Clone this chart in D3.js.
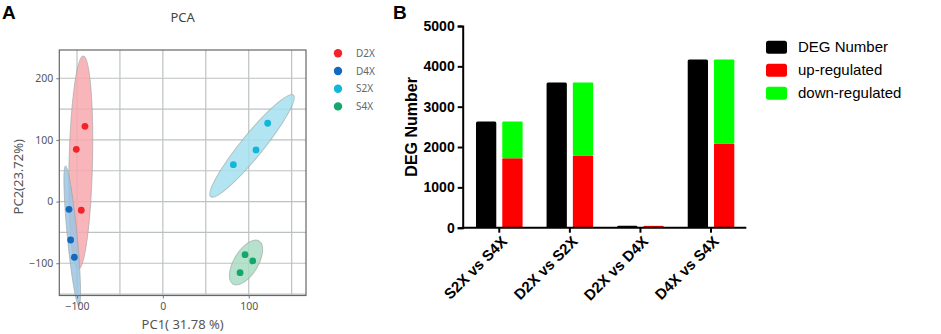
<!DOCTYPE html>
<html>
<head>
<meta charset="utf-8">
<script src="https://cdn.jsdelivr.net/npm/d3@7"></script>
<style>
  body { margin: 0; background: #fff; }
  svg { display: block; }
</style>
</head>
<body>
<svg id="chart" width="941" height="334"></svg>
<script>
// ---- Panel A data (PCA) ----
const groups = ["D2X", "D4X", "S2X", "S4X"];
const groupColors = ["#f2232a", "#1169c0", "#13b5d9", "#15a66c"];
const ellipseFill = ["#f7a9ae", "#9cc4e2", "#a5e1ef", "#a9dcc3"];
const pc1 = [
    [-90.7, -100.8, -95.0],
    [-109.3, -107.4, -103.1],
    [82.1, 108.5, 122.1],
    [95.7, 104.7, 89.9]
];
const pc2 = [
    [122.1, 84.8, -14.1],
    [-12.5, -62.3, -90.3],
    [59.8, 83.7, 127.0],
    [-86.1, -96.3, -115.3]
];
// confidence ellipses: ends of the long axis (PC1, PC2) and width ratio
const ellipseEnds = [
    [[-92.7, 236.1], [-98.5, -109.8]],
    [[-113.4, 57.7], [-97.7, -169.3]],
    [[152.0, 172.9], [55.7, 7.9]],
    [[112.0, -63.9], [81.7, -133.6]]
];
const ellipseRatio = [0.11, 0.07, 0.17, 0.48];
const pcaXTicks = [-100, 0, 100];
const pcaYTicks = [-100, 0, 100, 200];
const pcaGridX = [-100, -50, 0, 50, 100, 150];
const pcaGridY = [-150, -100, -50, 0, 50, 100, 150, 200];

// ---- Panel B data (DEG) ----
const comparisons = ["S2X vs S4X", "D2X vs S2X", "D2X vs D4X", "D4X vs S4X"];
const degNumber = [2630, 3600, 50, 4170];
const upRegulated = [1720, 1790, 42, 2090];
const downRegulated = [910, 1810, 8, 2080];
const degTicks = [0, 1000, 2000, 3000, 4000, 5000];
const legendLabels = ["DEG Number", "up-regulated", "down-regulated"];
const legendColors = ["#000000", "#ff0000", "#00ff00"];

const svg = d3.select("#chart");

// ================= Panel A =================
const gA = svg.append("g");
const xA = d3.scaleLinear().domain([-120.6, 166.7]).range([59.3, 306]);
const yA = d3.scaleLinear().domain([-152.3, 245.8]).range([295.5, 50]);
const fontA = "'Noto Sans', 'Open Sans', sans-serif";

gA.append("text")
    .attr("x", 2).attr("y", 19)
    .style("font-family", "Arial, 'Liberation Sans', sans-serif")
    .style("font-weight", "bold")
    .style("font-size", "19px")
    .text("A");

gA.append("text")
    .attr("x", (xA.range()[0] + xA.range()[1]) / 2)
    .attr("y", 22)
    .attr("text-anchor", "middle")
    .style("font-family", fontA)
    .style("font-size", "13px")
    .style("fill", "#444")
    .text("PCA");

// grid
gA.selectAll(".gx").data(pcaGridX).enter().append("line")
    .attr("x1", d => xA(d)).attr("x2", d => xA(d))
    .attr("y1", yA.range()[1]).attr("y2", yA.range()[0])
    .attr("stroke", "#bcc2c2").attr("stroke-width", 1.2);
gA.selectAll(".gy").data(pcaGridY).enter().append("line")
    .attr("y1", d => yA(d)).attr("y2", d => yA(d))
    .attr("x1", xA.range()[0]).attr("x2", xA.range()[1])
    .attr("stroke", "#bcc2c2").attr("stroke-width", 1.2);

// ellipses
ellipseEnds.forEach(function (e, i) {
    const p1 = [xA(e[0][0]), yA(e[0][1])];
    const p2 = [xA(e[1][0]), yA(e[1][1])];
    const cx = (p1[0] + p2[0]) / 2, cy = (p1[1] + p2[1]) / 2;
    const a = Math.hypot(p2[0] - p1[0], p2[1] - p1[1]) / 2;
    const ang = Math.atan2(p2[1] - p1[1], p2[0] - p1[0]) * 180 / Math.PI;
    gA.append("ellipse")
        .attr("transform", `translate(${cx},${cy}) rotate(${ang})`)
        .attr("rx", a)
        .attr("ry", a * ellipseRatio[i])
        .attr("fill", ellipseFill[i])
        .attr("fill-opacity", 0.85)
        .attr("stroke", "#9aa0a0")
        .attr("stroke-opacity", 0.6)
        .attr("stroke-width", 1);
});

// points
groups.forEach(function (g, i) {
    gA.selectAll(`.dot-${g}`)
        .data(pc1[i].map((v, j) => ({ x: v, y: pc2[i][j] })))
        .enter().append("circle")
        .attr("cx", d => xA(d.x))
        .attr("cy", d => yA(d.y))
        .attr("r", 3.4)
        .attr("fill", groupColors[i]);
});

// frame
gA.append("rect")
    .attr("x", xA.range()[0]).attr("y", yA.range()[1])
    .attr("width", xA.range()[1] - xA.range()[0])
    .attr("height", yA.range()[0] - yA.range()[1])
    .attr("fill", "none").attr("stroke", "#666").attr("stroke-width", 1.2);

// axes
const axA_x = gA.append("g")
    .attr("transform", `translate(0,${yA.range()[0]})`)
    .call(d3.axisBottom(xA).tickValues(pcaXTicks).tickSize(3).tickPadding(4));
const axA_y = gA.append("g")
    .attr("transform", `translate(${xA.range()[0]},0)`)
    .call(d3.axisLeft(yA).tickValues(pcaYTicks).tickSize(3).tickPadding(3));
[axA_x, axA_y].forEach(ax => {
    ax.select(".domain").remove();
    ax.selectAll("line").attr("stroke", "#777");
    ax.selectAll("text")
        .style("font-family", fontA)
        .style("font-size", "10.5px")
        .style("fill", "#555");
});

gA.append("text")
    .attr("x", (xA.range()[0] + xA.range()[1]) / 2)
    .attr("y", 329)
    .attr("text-anchor", "middle")
    .style("font-family", fontA)
    .style("font-size", "13px")
    .style("fill", "#555")
    .text("PC1( 31.78 %)");

gA.append("text")
    .attr("transform", `translate(23,${(yA.range()[0] + yA.range()[1]) / 2 + 4}) rotate(-90)`)
    .attr("text-anchor", "middle")
    .style("font-family", fontA)
    .style("font-size", "13px")
    .style("fill", "#555")
    .text("PC2(23.72%)");

// legend A
const legA = gA.selectAll(".legA").data(groups).enter().append("g")
    .attr("transform", (d, i) => `translate(338,${53.3 + i * 17.7})`);
legA.append("circle").attr("r", 4.2).attr("fill", (d, i) => groupColors[i]);
legA.append("text")
    .attr("x", 18).attr("dy", "0.35em")
    .style("font-family", fontA)
    .style("font-size", "10px")
    .style("fill", "#666")
    .text(d => d);

// ================= Panel B =================
const gB = svg.append("g");
const fontB = "Arial, 'Liberation Sans', sans-serif";
const xB = d3.scaleBand().domain(comparisons).range([464, 746.3]);
const xSub = d3.scaleBand().domain(["deg", "reg"]).range([0, xB.bandwidth()])
    .paddingInner(0.228).paddingOuter(0.456);
const yB = d3.scaleLinear().domain([0, 5000]).range([227.7, 26]);

gB.append("text")
    .attr("x", 393).attr("y", 19)
    .style("font-family", fontB)
    .style("font-weight", "bold")
    .style("font-size", "19px")
    .text("B");

// black total bars
gB.selectAll(".deg").data(comparisons).enter().append("rect")
    .attr("x", d => xB(d) + xSub("deg"))
    .attr("y", (d, i) => yB(degNumber[i]))
    .attr("width", xSub.bandwidth())
    .attr("height", (d, i) => yB(0) - yB(degNumber[i]))
    .attr("rx", 1.5)
    .attr("fill", legendColors[0]);

// stacked up/down bars
const stackRows = comparisons.map((c, i) => ({ comp: c, up: upRegulated[i], down: downRegulated[i] }));
const stacked = d3.stack().keys(["up", "down"])(stackRows);
stacked.forEach(function (layer, k) {
    gB.selectAll(`.st-${k}`).data(layer).enter().append("rect")
        .attr("x", d => xB(d.data.comp) + xSub("reg"))
        .attr("y", d => yB(d[1]))
        .attr("width", xSub.bandwidth())
        .attr("height", d => yB(d[0]) - yB(d[1]))
        .attr("rx", 1)
        .attr("fill", legendColors[k + 1]);
});

// axes B
const axB_y = gB.append("g")
    .attr("transform", "translate(462.7,0)")
    .call(d3.axisLeft(yB).tickValues(degTicks).tickFormat(d3.format("d")).tickSize(5).tickPadding(3));
axB_y.select(".domain").attr("stroke-width", 2);
axB_y.selectAll("line").attr("stroke-width", 2);
axB_y.selectAll("text")
    .style("font-family", fontB)
    .style("font-weight", "bold")
    .style("font-size", "14px")
    .style("fill", "#000");

const axB_x = gB.append("g")
    .attr("transform", `translate(0,${yB(0)})`)
    .call(d3.axisBottom(xB).tickSize(5).tickSizeOuter(0));
axB_x.select(".domain").attr("stroke-width", 2)
    .attr("d", `M461.7,0H${xB.range()[1]}`);
axB_x.selectAll("line").attr("stroke-width", 2);
axB_x.selectAll("text")
    .attr("text-anchor", "end")
    .attr("transform", "translate(5,11) rotate(-45)")
    .attr("y", 0).attr("x", 0).attr("dy", "0.35em")
    .style("font-family", fontB)
    .style("font-weight", "bold")
    .style("font-size", "15px")
    .style("fill", "#000");

gB.append("text")
    .attr("transform", `translate(417,${(yB(0) + yB(5000)) / 2}) rotate(-90)`)
    .attr("text-anchor", "middle")
    .style("font-family", fontB)
    .style("font-weight", "bold")
    .style("font-size", "16px")
    .text("DEG Number");

// legend B
const legB = gB.selectAll(".legB").data(legendLabels).enter().append("g")
    .attr("transform", (d, i) => `translate(766,${40.7 + i * 23})`);
legB.append("rect")
    .attr("width", 21).attr("height", 13).attr("rx", 2.5)
    .attr("fill", (d, i) => legendColors[i]);
legB.append("text")
    .attr("x", 32).attr("y", 6.5).attr("dy", "0.35em")
    .style("font-family", fontB)
    .style("font-size", "15px")
    .text(d => d);
</script>
</body>
</html>
